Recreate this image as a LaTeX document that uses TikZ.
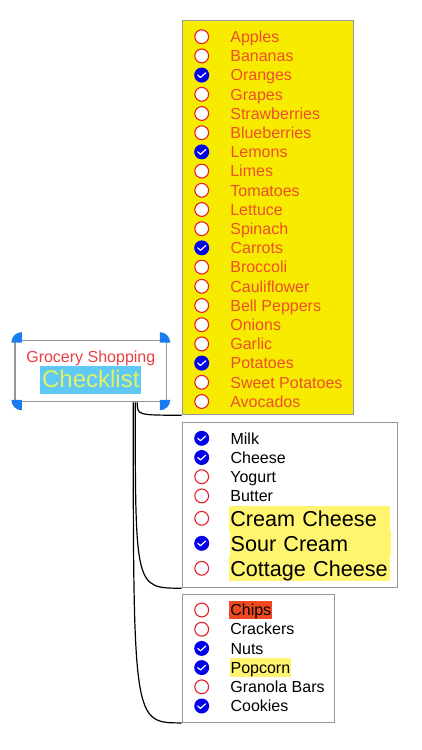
\documentclass[tikz,border=0pt]{standalone}
\usepackage{fontspec}
\setmainfont{Liberation Sans}
\usepackage{tikz}
\usetikzlibrary{positioning}

\definecolor{yellowfill}{RGB}{247,236,0}
\definecolor{prodred}{RGB}{238,78,42}
\definecolor{boxgray}{RGB}{150,150,150}
\definecolor{todored}{RGB}{230,30,40}
\definecolor{chkblue}{RGB}{0,0,235}
\definecolor{hlyellow}{RGB}{255,245,110}
\definecolor{chipred}{RGB}{240,72,32}
\definecolor{titlered}{RGB}{232,64,64}
\definecolor{chkyellow}{RGB}{225,242,100}
\definecolor{chkbg}{RGB}{95,200,245}
\definecolor{handblue}{RGB}{25,125,240}

\begin{document}
\begin{tikzpicture}[
    x=1pt, y=-1pt,
    node distance=19.2pt,
    listbox/.style={rectangle, draw=boxgray, line width=1.2pt, fill=white,
                    anchor=north west, inner sep=0pt},
    todo/.style={circle, draw=todored, fill=white, line width=1.1pt,
                 minimum size=13.8pt, inner sep=0pt},
    done/.style={circle, fill=chkblue, minimum size=15pt, inner sep=0pt,
                 path picture={\draw[white, line width=1.2pt, line cap=round, line join=round]
                   ([shift={(-4pt,0pt)}]path picture bounding box.center)
                   -- ([shift={(-1.2pt,-2.4pt)}]path picture bounding box.center)
                   -- ([shift={(4pt,2.3pt)}]path picture bounding box.center);}},
    item/.style={inner xsep=1pt, inner ysep=0.5pt, text height=14.5pt, text depth=3pt,
                 font=\fontsize{16}{18}\selectfont},
    prod/.style={item, text=prodred},
    big/.style={item, font=\fontsize{21.6}{24}\selectfont, text height=20.5pt,
                text depth=4.8pt, inner ysep=0pt, text width=159pt, align=left, fill=hlyellow},
    handle/.style={fill=handblue},
    arr/.style={draw=black, line width=1.2pt}
]
\useasboundingbox (0,0) rectangle (422,750);

% list boxes
\node[listbox, fill=yellowfill, minimum width=171.2pt, minimum height=394pt] (produce) at (181.5,20) {};
\node[listbox, minimum width=215.5pt, minimum height=165.3pt] (dairy) at (181.5,421.7) {};
\node[listbox, minimum width=152.5pt, minimum height=127.7pt] (snacks) at (181.5,594) {};

% root
\node[rectangle, draw=boxgray, line width=1.2pt, minimum width=151.7pt,
      minimum height=61pt, inner sep=0pt] (root) at (90.8,371.2) {};
\node[font=\fontsize{16}{18}\selectfont, text=titlered, inner sep=0pt, anchor=base]
      (title) at ([yshift=-22pt]root.north) {Grocery Shopping};
\node[font=\fontsize{24}{26}\selectfont, text=chkyellow, fill=chkbg, inner xsep=1.8pt,
      inner ysep=1pt, text height=20.6pt, text depth=5.7pt, anchor=base]
      (check) at ([yshift=-47.6pt]root.north) {Checklist};
\fill[handle] ([shift={(7.5pt,-2.5pt)}]root.north west) -- +(-10.5pt,0pt) arc[start angle=180, end angle=90, radius=10.5pt] -- cycle;
\fill[handle] ([shift={(-7.5pt,-2.5pt)}]root.north east) -- +(10.5pt,0pt) arc[start angle=0, end angle=90, radius=10.5pt] -- cycle;
\fill[handle] ([shift={(7.5pt,2.5pt)}]root.south west) -- +(-10.5pt,0pt) arc[start angle=180, end angle=270, radius=10.5pt] -- cycle;
\fill[handle] ([shift={(-7.5pt,2.5pt)}]root.south east) -- +(10.5pt,0pt) arc[start angle=0, end angle=-90, radius=10.5pt] -- cycle;

% connectors
\coordinate (hub1) at ([xshift=-30pt]root.south east);
\coordinate (hub2) at ([xshift=-32pt]root.south east);
\coordinate (hub3) at ([xshift=-34pt]root.south east);
\draw[arr] (hub1) .. controls (hub1 |- produce.south west) and (hub1 |- produce.south west) .. (produce.south west);
\draw[arr] (hub2) .. controls (hub2 |- dairy.south west) and (hub2 |- dairy.south west) .. (dairy.south west);
\draw[arr] (hub3) .. controls (hub3 |- snacks.south west) and (hub3 |- snacks.south west) .. (snacks.south west);

% produce
\node[todo] (p1c) at (201.7,36.7) {};
\node[todo, below of=p1c] (p2c) {};
\node[done, below of=p2c] (p3c) {};
\node[todo, below of=p3c] (p4c) {};
\node[todo, below of=p4c] (p5c) {};
\node[todo, below of=p5c] (p6c) {};
\node[done, below of=p6c] (p7c) {};
\node[todo, below of=p7c] (p8c) {};
\node[todo, below of=p8c] (p9c) {};
\node[todo, below of=p9c] (p10c) {};
\node[todo, below of=p10c] (p11c) {};
\node[done, below of=p11c] (p12c) {};
\node[todo, below of=p12c] (p13c) {};
\node[todo, below of=p13c] (p14c) {};
\node[todo, below of=p14c] (p15c) {};
\node[todo, below of=p15c] (p16c) {};
\node[todo, below of=p16c] (p17c) {};
\node[done, below of=p17c] (p18c) {};
\node[todo, below of=p18c] (p19c) {};
\node[todo, below of=p19c] (p20c) {};
\node[prod, right=20pt of p1c] (p1) {Apples};
\node[prod, right=20pt of p2c] (p2) {Bananas};
\node[prod, right=20pt of p3c] (p3) {Oranges};
\node[prod, right=20pt of p4c] (p4) {Grapes};
\node[prod, right=20pt of p5c] (p5) {Strawberries};
\node[prod, right=20pt of p6c] (p6) {Blueberries};
\node[prod, right=20pt of p7c] (p7) {Lemons};
\node[prod, right=20pt of p8c] (p8) {Limes};
\node[prod, right=20pt of p9c] (p9) {Tomatoes};
\node[prod, right=20pt of p10c] (p10) {Lettuce};
\node[prod, right=20pt of p11c] (p11) {Spinach};
\node[prod, right=20pt of p12c] (p12) {Carrots};
\node[prod, right=20pt of p13c] (p13) {Broccoli};
\node[prod, right=20pt of p14c] (p14) {Cauliflower};
\node[prod, right=20pt of p15c] (p15) {Bell Peppers};
\node[prod, right=20pt of p16c] (p16) {Onions};
\node[prod, right=20pt of p17c] (p17) {Garlic};
\node[prod, right=20pt of p18c] (p18) {Potatoes};
\node[prod, right=20pt of p19c] (p19) {Sweet Potatoes};
\node[prod, right=20pt of p20c] (p20) {Avocados};

% dairy
\node[done] (d1c) at (201.7,438.3) {};
\node[done, below of=d1c] (d2c) {};
\node[todo, below of=d2c] (d3c) {};
\node[todo, below of=d3c] (d4c) {};
\node[todo, below of=d4c, node distance=22.4pt] (d5c) {};
\node[done, below of=d5c, node distance=25pt] (d6c) {};
\node[todo, below of=d6c, node distance=25pt] (d7c) {};
\node[item, right=20pt of d1c] (d1) {Milk};
\node[item, right=20pt of d2c] (d2) {Cheese};
\node[item, right=20pt of d3c] (d3) {Yogurt};
\node[item, right=20pt of d4c] (d4) {Butter};
\node[big, right=20pt of d5c] (d5) {Cream Cheese};
\node[big, right=20pt of d6c] (d6) {Sour Cream};
\node[big, right=20pt of d7c] (d7) {Cottage Cheese};

% snacks
\node[todo] (s1c) at (201.7,610) {};
\node[todo, below of=s1c] (s2c) {};
\node[done, below of=s2c] (s3c) {};
\node[done, below of=s3c] (s4c) {};
\node[todo, below of=s4c] (s5c) {};
\node[done, below of=s5c] (s6c) {};
\node[item, fill=chipred, right=20pt of s1c] (s1) {Chips};
\node[item, right=20pt of s2c] (s2) {Crackers};
\node[item, right=20pt of s3c] (s3) {Nuts};
\node[item, fill=hlyellow, right=20pt of s4c] (s4) {Popcorn};
\node[item, right=20pt of s5c] (s5) {Granola Bars};
\node[item, right=20pt of s6c] (s6) {Cookies};
\end{tikzpicture}
\end{document}
